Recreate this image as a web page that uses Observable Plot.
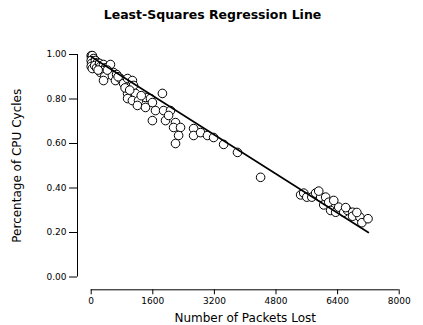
<!DOCTYPE html>
<html>
<head>
<meta charset="utf-8">
<script src="https://cdn.jsdelivr.net/npm/d3@7"></script>
<script src="https://cdn.jsdelivr.net/npm/@observablehq/plot@0.6"></script>
<style>
  html, body { margin: 0; padding: 0; background: #fff; }
  #title { width: 423px; height: 30px; text-align: center; font: bold 12.5px "DejaVu Sans", sans-serif; line-height: 30px; color: #000; padding-left: 2px; box-sizing: border-box; }
  #chart svg { display: block; }
</style>
</head>
<body>
<div id="title">Least-Squares Regression Line</div>
<div id="chart"></div>
<script>
const packetsLost = [
  0, 10, 30, 60, 0, 10, 0, 30, 110, 160, 90, 140, 220, 240, 320, 370, 450, 500,
  290, 400, 240, 350, 580, 550, 660, 630, 320, 760, 840, 945, 1070, 1100, 945, 1150,
  1850, 945, 1070, 1230, 1410, 1540, 1590, 1200, 1410, 1670, 1880, 2060, 1590, 1930,
  2010, 2190, 2140, 2320, 2270, 2190, 2660, 2660, 2840, 3020, 3180, 3440, 3800, 4400,
  5440, 5520, 5600, 5730, 5830, 5960, 6090, 6040, 6170, 6220, 6350, 6430, 6560, 6660,
  6790, 6790, 6980, 7030, 7190, 5910, 6300, 6610, 6900,
  180, 420, 700, 880, 1000, 1300
];
const cpuShare = [
  0.995, 0.986, 0.995, 0.982, 0.973, 0.960, 0.946, 0.937, 0.973, 0.964, 0.950, 0.940, 0.960, 0.946, 0.955, 0.940, 0.946, 0.955,
  0.928, 0.919, 0.919, 0.901, 0.919, 0.905, 0.910, 0.883, 0.883, 0.892, 0.870, 0.892, 0.883, 0.861, 0.825, 0.825,
  0.825, 0.802, 0.793, 0.793, 0.807, 0.802, 0.784, 0.771, 0.762, 0.748, 0.748, 0.748, 0.703, 0.703,
  0.726, 0.694, 0.672, 0.672, 0.636, 0.600, 0.667, 0.636, 0.649, 0.636, 0.627, 0.596, 0.560, 0.448,
  0.369, 0.377, 0.359, 0.359, 0.377, 0.359, 0.359, 0.324, 0.336, 0.299, 0.291, 0.314, 0.291, 0.299,
  0.291, 0.273, 0.269, 0.244, 0.262, 0.386, 0.344, 0.312, 0.290,
  0.930, 0.930, 0.900, 0.850, 0.840, 0.815
];
const fitX = [0, 7200];
const fitY = [0.99, 0.20];
const xTicks = [0, 1600, 3200, 4800, 6400, 8000];
const yTicks = [0, 0.2, 0.4, 0.6, 0.8, 1.0];

const points = packetsLost.map((x, i) => ({x, y: cpuShare[i]}));
const fit = fitX.map((x, i) => ({x, y: fitY[i]}));

const tickFont = {fontSize: 9, fontFamily: "DejaVu Sans"};

const plot = Plot.plot({
  width: 423,
  height: 295,
  marginLeft: 90.7,
  marginRight: 24.3,
  marginTop: 24,
  marginBottom: 48.5,
  style: {fontFamily: "DejaVu Sans", fontSize: "9px", color: "#000", background: "#fff"},
  x: {domain: [0, 8000]},
  y: {domain: [0, 1]},
  marks: [
    Plot.ruleX([0], {y1: 0, y2: 1, dx: -13.7, stroke: "#000", strokeWidth: 1}),
    Plot.axisY({ticks: yTicks, tickFormat: d3.format(".2f"), tickSize: 8, tickPadding: 3, dx: -13.7, label: null, ...tickFont}),
    Plot.ruleY([0], {x1: 0, x2: 8000, dy: 12.8, stroke: "#000", strokeWidth: 1}),
    Plot.axisX({ticks: xTicks, tickFormat: d3.format("d"), tickSize: 5, tickPadding: 3, dy: 12.8, label: null, ...tickFont}),
    Plot.dot(points, {x: "x", y: "y", r: 4.3, stroke: "#000", fill: "#fff", strokeWidth: 1}),
    Plot.line(fit, {x: "x", y: "y", stroke: "#000", strokeWidth: 1.6}),
    Plot.text(["Number of Packets Lost"], {frameAnchor: "bottom", dy: 41.5, lineAnchor: "middle", textAnchor: "middle", fontSize: 12, fontFamily: "DejaVu Sans", letterSpacing: "0.4px"}),
    Plot.text(["Percentage of CPU Cycles"], {frameAnchor: "left", dx: -74, rotate: -90, textAnchor: "middle", lineAnchor: "middle", fontSize: 12, fontFamily: "DejaVu Sans", letterSpacing: "0.3px"})
  ]
});
document.getElementById("chart").appendChild(plot);
</script>
</body>
</html>
